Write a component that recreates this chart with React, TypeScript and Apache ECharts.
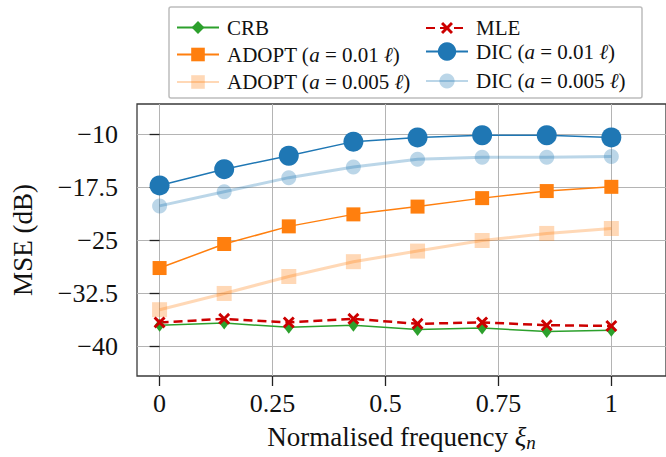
import React, { useEffect, useRef } from "react";
import * as echarts from "echarts";

const FONT = "Liberation Serif";

const xValues = [0, 0.143, 0.286, 0.429, 0.571, 0.714, 0.857, 1];
const crb = [-37.0, -36.7, -37.3, -37.0, -37.6, -37.4, -37.9, -37.7];
const mle = [-36.6, -36.1, -36.6, -36.1, -36.8, -36.6, -37.0, -37.1];
const adopt01 = [-28.9, -25.5, -23.0, -21.3, -20.2, -19.0, -18.0, -17.4];
const adopt005 = [-34.8, -32.5, -30.1, -28.0, -26.5, -25.0, -24.0, -23.3];
const dic01 = [-17.2, -14.9, -13.0, -11.0, -10.4, -10.1, -10.1, -10.4];
const dic005 = [-20.1, -18.1, -16.1, -14.6, -13.5, -13.2, -13.2, -13.1];

const xTicks = [0, 0.25, 0.5, 0.75, 1];
const yTicks = [-40, -32.5, -25, -17.5, -10];

const N_CRB = "CRB";
const N_MLE = "MLE";
const N_A01 = "ADOPT (a = 0.01 ℓ)";
const N_A005 = "ADOPT (a = 0.005 ℓ)";
const N_D01 = "DIC (a = 0.01 ℓ)";
const N_D005 = "DIC (a = 0.005 ℓ)";

const legendRich: Record<string, string> = {
  [N_CRB]: "CRB",
  [N_MLE]: "MLE",
  [N_A01]: "ADOPT ({i|a} = 0.01 {i|ℓ})",
  [N_A005]: "ADOPT ({i|a} = 0.005 {i|ℓ})",
  [N_D01]: "DIC ({i|a} = 0.01 {i|ℓ})",
  [N_D005]: "DIC ({i|a} = 0.005 {i|ℓ})",
};

const CROSS =
  "path://M0,1.7L1.7,0L5,3.3L8.3,0L10,1.7L6.7,5L10,8.3L8.3,10L5,6.7L1.7,10L0,8.3L3.3,5Z";

const pairs = (ys: number[]) => xValues.map((x, i) => [x, ys[i]]);

export default function App() {
  const ref = useRef<HTMLDivElement>(null);
  useEffect(() => {
    if (!ref.current) return;
    const chart = echarts.init(ref.current, null, { renderer: "svg" });
    const C = "#111";
    const legendItem = (name: string, left: number, cy: number, h: number) => ({
      data: [name],
      left,
      top: cy - h / 2,
      orient: "vertical",
      itemWidth: 42,
      itemHeight: h,
      padding: 0,
      selectedMode: false,
      formatter: (n: string) => legendRich[n] || n,
      textStyle: {
        fontFamily: FONT,
        fontSize: 21,
        color: C,
        padding: [0, 0, 0, 3],
        rich: {
          i: { fontFamily: FONT, fontSize: 21, fontStyle: "italic", color: C },
        },
      },
    });
    const minus = (v: number) => String(v).replace("-", "\u2212");
    chart.setOption({
      animation: false,
      textStyle: { fontFamily: FONT, color: C },
      grid: {
        left: 137,
        top: 104,
        right: -34,
        bottom: 77,
        show: true,
        borderColor: "#3a3a3a",
        borderWidth: 1.3,
        containLabel: false,
      },
      xAxis: {
        type: "value",
        min: -0.05,
        max: 1.121,
        name: "Normalised frequency {i|ξ}{sub|n}",
        nameLocation: "middle",
        nameGap: 46,
        nameTextStyle: {
          fontFamily: FONT,
          fontSize: 27,
          color: C,
          lineHeight: 30,
          rich: {
            i: { fontFamily: FONT, fontSize: 27, fontStyle: "italic", color: C, lineHeight: 30 },
            sub: { fontFamily: FONT, fontSize: 19, fontStyle: "italic", color: C, lineHeight: 16, verticalAlign: "bottom" },
          },
        },
        axisLine: { show: false },
        axisTick: {
          show: true,
          length: 10,
          customValues: xTicks,
          lineStyle: { color: "#222", width: 1.3 },
        },
        axisLabel: {
          customValues: xTicks,
          fontFamily: FONT,
          color: C,
          fontSize: 26,
          margin: 14,
          formatter: (v: number) => String(v),
        },
        splitLine: { show: true, lineStyle: { color: "#b4b4b4", width: 1 } },
      },
      yAxis: {
        type: "value",
        min: -44.19,
        max: -5.67,
        name: "MSE (dB)",
        nameLocation: "middle",
        nameGap: 101,
        nameTextStyle: { fontFamily: FONT, fontSize: 27, color: C },
        axisLine: { show: false },
        axisTick: {
          show: true,
          length: 10,
          customValues: yTicks,
          lineStyle: { color: "#222", width: 1.3 },
        },
        axisLabel: {
          customValues: yTicks,
          fontFamily: FONT,
          color: C,
          fontSize: 26,
          margin: 19,
          formatter: (v: number) => minus(v),
        },
        splitLine: { show: true, lineStyle: { color: "#b4b4b4", width: 1 } },
      },
      legend: [
        legendItem(N_CRB, 176, 25, 16),
        legendItem(N_A01, 176, 52.5, 17),
        legendItem(N_A005, 176, 80, 17),
        legendItem(N_MLE, 425, 25, 15),
        legendItem(N_D01, 425, 52.5, 23),
        legendItem(N_D005, 425, 80, 19),
      ],
      graphic: [
        {
          type: "rect",
          shape: { x: 169, y: 7, width: 473, height: 91, r: 2 },
          style: { fill: "#fff", stroke: "#bdbdbd", lineWidth: 1.5 },
          z: -1,
          silent: true,
        },
      ],
      series: [
        {
          name: N_A005,
          type: "line",
          data: pairs(adopt005),
          symbol: "rect",
          symbolSize: 15,
          lineStyle: { color: "rgba(255,127,14,0.3)", width: 3 },
          itemStyle: { color: "rgba(255,127,14,0.3)" },
        },
        {
          name: N_D005,
          type: "line",
          data: pairs(dic005),
          symbol: "circle",
          symbolSize: 15,
          lineStyle: { color: "rgba(31,119,180,0.3)", width: 3 },
          itemStyle: { color: "rgba(31,119,180,0.3)" },
        },
        {
          name: N_A01,
          type: "line",
          data: pairs(adopt01),
          symbol: "rect",
          symbolSize: 14,
          lineStyle: { color: "#ff7f0e", width: 1.5 },
          itemStyle: { color: "#ff7f0e" },
        },
        {
          name: N_D01,
          type: "line",
          data: pairs(dic01),
          symbol: "circle",
          symbolSize: 20,
          lineStyle: { color: "#1f77b4", width: 1.5 },
          itemStyle: { color: "#1f77b4" },
        },
        {
          name: N_CRB,
          type: "line",
          data: pairs(crb),
          symbol: "diamond",
          symbolSize: [10, 13],
          lineStyle: { color: "#2ca02c", width: 1.5 },
          itemStyle: { color: "#2ca02c" },
        },
        {
          name: N_MLE,
          type: "line",
          data: pairs(mle),
          symbol: CROSS,
          symbolSize: 12,
          lineStyle: { color: "#cc0000", width: 2.5, type: [9, 5] },
          itemStyle: { color: "#cc0000" },
        },
      ],
    });
    return () => chart.dispose();
  }, []);
  return (
    <div
      ref={ref}
      style={{ position: "fixed", left: 0, top: 0, width: 666, height: 457, background: "#fff" }}
    />
  );
}
